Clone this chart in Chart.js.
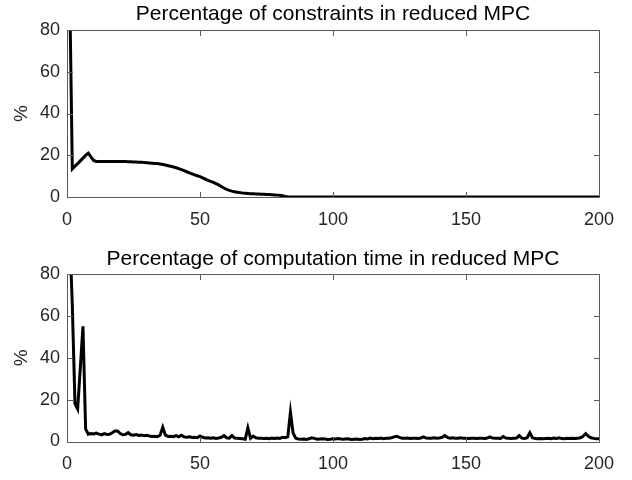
<!DOCTYPE html>
<html>
<head>
<meta charset="utf-8">
<script src="https://cdn.jsdelivr.net/npm/chart.js@4/dist/chart.umd.min.js"></script>
<style>
  html, body { margin: 0; padding: 0; background: #fff; }
  #wrap { position: relative; width: 632px; height: 480px; }
  .box { position: absolute; left: 0; width: 632px; height: 240px; }
</style>
</head>
<body>
<div id="wrap">
  <div class="box" style="top:0"><canvas id="c1" width="632" height="240"></canvas></div>
  <div class="box" style="top:240px"><canvas id="c2" width="632" height="240"></canvas></div>
</div>
<script>
// ---- data ----
const titles = ["Percentage of constraints in reduced MPC", "Percentage of computation time in reduced MPC"];
const yLabel = "%";
const xTicksStep = 50;
const yTicksStep = 20;
const xRange = [0, 200];
const yRange = [0, 80];

// Percentage of constraints, steps 1..200
const constraintsPct = [
  100, 13.5, 14.8, 16.0, 17.3, 18.6, 19.9, 21.0, 19.2, 17.5,
  17.0, 17.0, 17.0, 17.0, 17.0, 17.0, 17.0, 17.0, 17.0, 17.0,
  17.0, 17.0, 16.9, 16.9, 16.8, 16.8, 16.7, 16.6, 16.5, 16.4,
  16.3, 16.2, 16.1, 16.0, 15.8, 15.6, 15.3, 15.0, 14.7, 14.4,
  14.0, 13.6, 13.1, 12.6, 12.1, 11.6, 11.1, 10.6, 10.2, 9.8,
  9.2, 8.6, 8.0, 7.5, 7.0, 6.4, 5.8, 5.0, 4.3, 3.7,
  3.2, 2.8, 2.5, 2.3, 2.1, 1.9, 1.8, 1.7, 1.6, 1.5,
  1.4, 1.4, 1.3, 1.3, 1.2, 1.2, 1.1, 1.0, 0.9, 0.8,
  0.6, 0.3, 0.1, 0, 0, 0, 0, 0, 0, 0,
  0, 0, 0, 0, 0, 0, 0, 0, 0, 0,
  0, 0, 0, 0, 0, 0, 0, 0, 0, 0,
  0, 0, 0, 0, 0, 0, 0, 0, 0, 0,
  0, 0, 0, 0, 0, 0, 0, 0, 0, 0,
  0, 0, 0, 0, 0, 0, 0, 0, 0, 0,
  0, 0, 0, 0, 0, 0, 0, 0, 0, 0,
  0, 0, 0, 0, 0, 0, 0, 0, 0, 0,
  0, 0, 0, 0, 0, 0, 0, 0, 0, 0,
  0, 0, 0, 0, 0, 0, 0, 0, 0, 0,
  0, 0, 0, 0, 0, 0, 0, 0, 0, 0,
  0, 0, 0, 0, 0, 0, 0, 0, 0, 0
];

// Percentage of computation time, steps 1..200
const computationPct = [
  100, 65, 18, 15.5, 35, 55, 6, 3.5, 3.8, 3.6,
  4.0, 3.5, 3.2, 3.8, 3.4, 3.5, 4.2, 5.0, 5.0, 3.8,
  3.2, 3.4, 4.2, 3.2, 3.0, 3.3, 2.9, 3.1, 2.8, 3.0,
  2.6, 2.4, 2.5, 2.3, 3.0, 6.8, 3.0, 2.4, 2.5, 2.3,
  2.8, 2.2, 3.0, 2.2, 2.0, 2.3, 1.9, 2.0, 1.8, 2.6,
  2.0, 1.7, 1.8, 1.6, 1.8, 1.5, 1.7, 2.0, 2.8, 1.8,
  1.6, 2.8, 1.6, 1.5, 1.4, 1.3, 1.1, 6.5, 1.5, 2.6,
  1.8, 1.5, 1.6, 1.4, 1.5, 1.3, 1.6, 1.4, 1.7, 1.5,
  2.0, 1.8, 2.2, 14.0, 4.0, 1.6, 1.2, 1.1, 1.2, 1.0,
  1.3, 1.8, 1.5, 1.1, 1.2, 1.3, 1.2, 1.0, 1.1, 1.3,
  1.2, 1.4, 1.2, 1.1, 1.3, 1.2, 1.0, 1.1, 1.2, 1.0,
  1.1, 1.4, 1.2, 1.6, 1.3, 1.5, 1.4, 1.6, 1.3, 1.5,
  1.6, 1.8, 2.2, 2.5, 2.0, 1.6, 1.5, 1.7, 1.4, 1.5,
  1.6, 1.4, 1.7, 2.2, 1.6, 1.5, 1.6, 1.8, 1.6, 1.7,
  2.0, 2.8, 2.0, 1.6, 1.8, 1.5, 1.6, 1.8, 1.5, 1.6,
  1.4, 1.6, 1.5, 1.4, 1.6, 1.5, 1.4, 1.7, 2.2, 1.6,
  1.5, 1.6, 1.5, 2.4, 1.6, 1.5, 1.4, 1.5, 1.6, 2.8,
  1.6, 1.4, 1.8, 4.2, 1.8, 1.4, 1.3, 1.4, 1.3, 1.4,
  1.5, 1.3, 1.6, 1.4, 1.8, 1.4, 1.3, 1.5, 1.4, 1.6,
  1.4, 1.5, 1.8, 2.5, 3.8, 2.5, 1.8, 1.5, 1.3, 1.3
];

// ---- rendering ----
const FONT = "'Liberation Sans', Arial, Helvetica, sans-serif";
const TEXT = '#262626';
const AXIS = '#5a5a5a';

const boxTicks = {
  id: 'boxTicks',
  afterDraw(chart) {
    const {ctx, chartArea: a, scales} = chart;
    const L = 5.5;
    ctx.save();
    ctx.strokeStyle = AXIS;
    ctx.lineWidth = 1;
    ctx.beginPath();
    const l = Math.round(a.left) + 0.5, r = Math.round(a.right) + 0.5;
    const t = Math.round(a.top) + 0.5, b = Math.round(a.bottom) + 0.5;
    ctx.rect(l, t, r - l, b - t);
    scales.x.ticks.forEach(tk => {
      const px = Math.round(scales.x.getPixelForValue(tk.value)) + 0.5;
      ctx.moveTo(px, b); ctx.lineTo(px, b - L);
      ctx.moveTo(px, t); ctx.lineTo(px, t + L);
    });
    scales.y.ticks.forEach(tk => {
      const py = Math.round(scales.y.getPixelForValue(tk.value)) + 0.5;
      ctx.moveTo(l, py); ctx.lineTo(l + L, py);
      ctx.moveTo(r, py); ctx.lineTo(r - L, py);
    });
    ctx.stroke();
    ctx.restore();
  }
};

function makeChart(id, title, values, areaTop, areaBottom, canvasH, titlePadTop) {
  const points = values.map((v, i) => ({x: i + 1, y: v}));
  const titleFont = 21;
  const titleLH = titleFont * 1.2;
  return new Chart(document.getElementById(id), {
    type: 'line',
    data: { datasets: [{
      data: points,
      borderColor: '#000',
      borderWidth: 3,
      pointRadius: 0,
      tension: 0,
      fill: false
    }]},
    options: {
      responsive: false,
      animation: false,
      events: [],
      layout: { padding: { left: 0, right: 33, top: 0, bottom: 0 } },
      plugins: {
        legend: { display: false },
        tooltip: { enabled: false },
        title: {
          display: true,
          text: title,
          fullSize: false,
          color: '#000',
          font: { family: FONT, size: titleFont, weight: 'normal', lineHeight: 1.2 },
          padding: { top: titlePadTop, bottom: areaTop - titlePadTop - titleLH }
        }
      },
      scales: {
        x: {
          type: 'linear',
          min: xRange[0], max: xRange[1],
          border: { display: false },
          grid: { display: false, drawTicks: false },
          ticks: { stepSize: xTicksStep, color: TEXT, padding: 12, maxRotation: 0,
                   font: { family: FONT, size: 18 } },
          afterFit(s) { s.height = canvasH - areaBottom; }
        },
        y: {
          type: 'linear',
          min: yRange[0], max: yRange[1],
          border: { display: false },
          grid: { display: false, drawTicks: false },
          ticks: { stepSize: yTicksStep, color: TEXT, padding: 7,
                   font: { family: FONT, size: 18 } },
          title: { display: true, text: yLabel, color: TEXT,
                   font: { family: FONT, size: 19 }, padding: { top: 10, bottom: 0 } },
          afterFit(s) { s.width = 67; }
        }
      }
    },
    plugins: [boxTicks]
  });
}

makeChart('c1', titles[0], constraintsPct, 30, 197, 240, 2);
makeChart('c2', titles[1], computationPct, 34, 201.5, 240, 6.4);
</script>
</body>
</html>
